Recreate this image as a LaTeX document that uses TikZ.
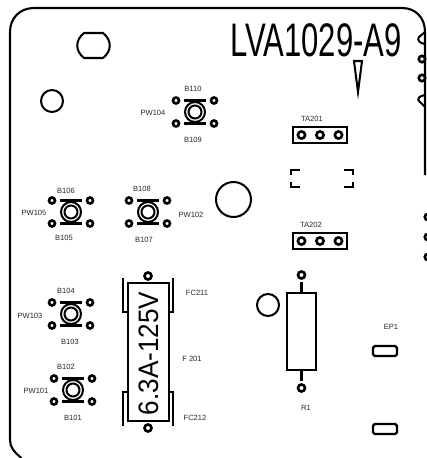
\documentclass[tikz,border=0pt]{standalone}
\usepackage{fontspec}
\setmainfont{Liberation Sans}
\usetikzlibrary{calc}
\tikzset{
    board/.style={line width=1.2pt},
    part/.style={line width=1.15pt},
    pad/.style={line width=1.5pt},
    tag/.style={inner sep=0pt,text=black!85,font=\fontsize{4.3}{5}\selectfont},
    switchpad/.pic={
        % draw pads
        \draw[pad] (-19,-11.5) circle (3);
        \draw[pad] (19,-11.5) circle (3);
        \draw[pad] (-19,11.5) circle (3);
        \draw[pad] (19,11.5) circle (3);
        % draw bars and knob
        \draw[line width=1.3pt] (-11,-11.5) -- (11,-11.5);
        \draw[line width=1.3pt] (-11,11.5) -- (11,11.5);
        \draw[part] (0,0) circle (10);
        \draw[part] (0,0) circle (6.5);
    },
    headerpad/.pic={
        \draw[line width=1.4pt] (-27,-8) rectangle (27,8);
        \draw[pad] (-18.5,0) circle (3.6);
        \draw[pad] (0,0) circle (3.6);
        \draw[pad] (18.5,0) circle (3.6);
    }
}

\begin{document}
\begin{tikzpicture}[x=0.02cm,y=-0.02cm]
    \clip (0,0) rectangle (427,458);

    % draw board outline
    \draw[board] (21.5,458) .. controls (14,452) and (10,447) .. (10,440) -- (10,32)
        .. controls (10,18) and (20,8) .. (34,8) -- (402,8)
        .. controls (416,8) and (425,18) .. (425,32) -- (425,175);

    % draw holes
    \draw[part] (84,33) -- (103,33) .. controls (112,40) and (112,51) .. (103,58)
        -- (84,58) .. controls (75,51) and (75,40) .. (84,33) -- cycle;
    \draw[part] (52,101) circle (11);
    \draw[part] (233.5,199.5) circle (17.5);
    \draw[part] (268,305) circle (11);

    % draw notches on the right edge
    \draw[part] (425,32) -- (419,37) .. controls (417,40) and (419,43) .. (425,44);
    \draw[part] (425,95) .. controls (419,96) and (417,99) .. (419,101) -- (425,107);
    \foreach \y in {59,78} \draw[pad] (422,\y) circle (3.2);
    \foreach \y in {217,237,257} \draw[pad] (428,\y) circle (3.2);

    % draw title and marker
    \node[inner sep=0pt,xscale=0.66,font=\fontsize{26.8}{30}\selectfont] (title) at (316,40) {LVA1029-A9};
    \draw[part] (354,61) -- (362,61) -- (358,92) -- cycle;

    % draw switches
    \pic at (195,112) {switchpad};
    \pic at (71,212) {switchpad};
    \pic at (148,212) {switchpad};
    \pic at (71,314) {switchpad};
    \pic at (73,390) {switchpad};

    % draw switch labels
    \foreach \name/\x/\y in {B110/193/89,PW104/153/113,B109/193/140,
        B106/66/191,PW105/34/213,B105/64/238,
        B108/142/189,PW102/191/215,B107/144/240,
        B104/66/291,PW103/30/316,B103/70/342,
        B102/66/367,PW101/36/391,B101/73/418}
        \node[tag] (\name) at (\x,\y) {\name};

    % draw headers
    \pic at (320,135) {headerpad};
    \pic at (320,241) {headerpad};
    \node[tag] (TA201) at (312,119) {TA201};
    \node[tag] (TA202) at (311,225) {TA202};

    % draw corner marks
    \draw[line width=1.6pt] (300,170) -- (291,170) -- (291,175);
    \draw[line width=1.6pt] (300,187) -- (291,187) -- (291,182);
    \draw[line width=1.6pt] (344,170) -- (353,170) -- (353,175);
    \draw[line width=1.6pt] (344,187) -- (353,187) -- (353,182);

    % draw fuse
    \draw[line width=1.6pt] (128,283) rectangle (169,421);
    \draw[pad] (148,276) circle (3.5);
    \draw[pad] (148,428) circle (3.5);
    \draw[part] (123,278) -- (123,312) -- (128,312);
    \draw[part] (173,278) -- (173,312) -- (169,312);
    \draw[part] (123,426) -- (123,392) -- (128,392);
    \draw[part] (173,426) -- (173,392) -- (169,392);
    \node[inner sep=0pt,rotate=90,xscale=0.93,font=\fontsize{16}{18}\selectfont] (fuse) at (149,353.5) {6.3A-125V};
    \node[tag] (FC211) at (197,293) {FC211};
    \node[tag] (F201) at (192,359) {F 201};
    \node[tag] (FC212) at (195,418) {FC212};

    % draw resistor
    \coordinate (rtop) at (301.5,293);
    \coordinate (rbot) at (301.5,370);
    \draw[line width=1.3pt] (287,293) rectangle (316,370);
    \draw[part] (rtop) -- ++(0,-11);
    \draw[part] (rbot) -- ++(0,11);
    \draw[pad] ($ (rtop) + (0,-18) $) circle (3.5);
    \draw[pad] ($ (rbot) + (0,18) $) circle (3.5);
    \node[tag] (R1) at (306,408) {R1};

    % draw earth pads
    \draw[line width=1.4pt,rounded corners=1pt] (373,346) rectangle (397,356);
    \draw[line width=1.4pt,rounded corners=1pt] (373,424) rectangle (397,434);
    \node[tag] (EP1) at (391,327) {EP1};
\end{tikzpicture}
\end{document}
